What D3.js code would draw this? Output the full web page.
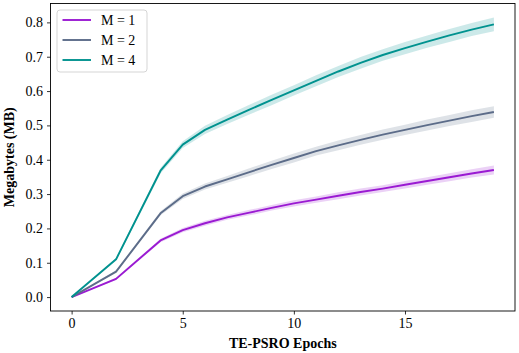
<!DOCTYPE html>
<html>
<head>
<meta charset="utf-8">
<script src="https://cdn.jsdelivr.net/npm/d3@7"></script>
<style>
  body { margin: 0; background: #fff; }
  text { font-family: "Liberation Serif", "DejaVu Serif", serif; }
</style>
</head>
<body>
<div id="chart"></div>
<script>
// epochs and mean memory use (MB) for each M
const epochs = [0, 2, 4, 5, 6, 7, 8, 9, 10, 11, 12, 13, 14, 15, 16, 17, 18, 19];
const m1 = [0, 0.053, 0.165, 0.195, 0.215, 0.232, 0.246, 0.260, 0.273, 0.284, 0.295, 0.306, 0.316, 0.327, 0.338, 0.349, 0.360, 0.370];
const m2 = [0, 0.074, 0.244, 0.294, 0.322, 0.343, 0.364, 0.385, 0.405, 0.425, 0.442, 0.458, 0.473, 0.487, 0.501, 0.514, 0.527, 0.539];
const m4 = [0, 0.110, 0.368, 0.444, 0.487, 0.517, 0.546, 0.574, 0.602, 0.630, 0.657, 0.682, 0.705, 0.725, 0.744, 0.762, 0.779, 0.794];
// half width of the shaded band
const m1Err = [0, 0.003, 0.005, 0.006, 0.007, 0.007, 0.008, 0.008, 0.009, 0.009, 0.010, 0.010, 0.010, 0.011, 0.011, 0.012, 0.012, 0.013];
const m2Err = [0, 0.004, 0.006, 0.008, 0.009, 0.010, 0.011, 0.012, 0.013, 0.013, 0.014, 0.014, 0.015, 0.015, 0.016, 0.016, 0.017, 0.017];
const m4Err = [0, 0.004, 0.008, 0.010, 0.012, 0.013, 0.014, 0.015, 0.015, 0.016, 0.016, 0.017, 0.017, 0.018, 0.018, 0.019, 0.019, 0.020];
const seriesNames = ["M = 1", "M = 2", "M = 4"];
const xTicks = [0, 5, 10, 15];
const yTicks = [0, 0.1, 0.2, 0.3, 0.4, 0.5, 0.6, 0.7, 0.8];

const colors = ["#9a1ad2", "#5c6c89", "#00928f"];
const series = [m1, m2, m4].map((vals, k) => ({
  name: seriesNames[k],
  color: colors[k],
  pts: epochs.map((e, i) => ({ x: e, y: vals[i], e: [m1Err, m2Err, m4Err][k][i] }))
}));

const width = 519, height = 353;
const margin = { left: 50.5, top: 3.5, right: 4, bottom: 42 };
const w = width - margin.left - margin.right;
const h = height - margin.top - margin.bottom;

const svg = d3.select("#chart").append("svg")
  .attr("width", width)
  .attr("height", height);

const g = svg.append("g")
  .attr("transform", `translate(${margin.left},${margin.top})`);

const x = d3.scaleLinear().domain([-0.95, 19.95]).range([0, w]);
const y = d3.scaleLinear().domain([-0.0405, 0.855]).range([h, 0]);

// bands first, then lines on top
const area = d3.area()
  .x(d => x(d.x))
  .y0(d => y(d.y - d.e))
  .y1(d => y(d.y + d.e));

const line = d3.line()
  .x(d => x(d.x))
  .y(d => y(d.y));

series.forEach(s => {
  g.append("path")
    .datum(s.pts)
    .attr("d", area)
    .attr("fill", s.color)
    .attr("fill-opacity", 0.2);
});

series.forEach(s => {
  g.append("path")
    .datum(s.pts)
    .attr("d", line)
    .attr("fill", "none")
    .attr("stroke", s.color)
    .attr("stroke-width", 1.9)
    .attr("stroke-linejoin", "round");
});

// axes
const xAxis = g.append("g")
  .attr("transform", `translate(0,${h})`)
  .call(d3.axisBottom(x).tickValues(xTicks).tickFormat(d3.format("d")).tickSize(3.5).tickPadding(4));

const yAxis = g.append("g")
  .call(d3.axisLeft(y).tickValues(yTicks).tickFormat(d3.format(".1f")).tickSize(3.5).tickPadding(4));

[xAxis, yAxis].forEach(a => {
  a.select(".domain").remove();
  a.selectAll("line").attr("stroke", "#000").attr("stroke-width", 0.8);
  a.selectAll("text")
    .attr("fill", "#000")
    .style("font-size", "14px")
    .style("font-family", "'Liberation Serif', serif");
});

g.append("rect")
  .attr("width", w)
  .attr("height", h)
  .attr("fill", "none")
  .attr("stroke", "#000")
  .attr("stroke-width", 0.9);

// axis labels
svg.append("text")
  .attr("x", margin.left + w / 2)
  .attr("y", 348)
  .attr("text-anchor", "middle")
  .style("font-size", "14px")
  .style("font-weight", "bold")
  .text("TE-PSRO Epochs");

svg.append("text")
  .attr("transform", `translate(14,${margin.top + h / 2}) rotate(-90)`)
  .attr("text-anchor", "middle")
  .style("font-size", "14px")
  .style("font-weight", "bold")
  .text("Megabytes (MB)");

// legend
const legend = g.append("g")
  .attr("transform", "translate(6.5,6.5)");

legend.append("rect")
  .attr("width", 90)
  .attr("height", 62)
  .attr("rx", 3)
  .attr("fill", "#fff")
  .attr("fill-opacity", 0.8)
  .attr("stroke", "#d0d0d0")
  .attr("stroke-width", 0.9);

series.forEach((s, i) => {
  const row = legend.append("g")
    .attr("transform", `translate(0,${10 + i * 20})`);
  row.append("line")
    .attr("x1", 5.5).attr("x2", 34)
    .attr("y1", 0).attr("y2", 0)
    .attr("stroke", s.color)
    .attr("stroke-width", 1.9);
  row.append("text")
    .attr("x", 44)
    .attr("y", 0)
    .attr("dy", "0.35em")
    .style("font-size", "14px")
    .text(s.name);
});
</script>
</body>
</html>
